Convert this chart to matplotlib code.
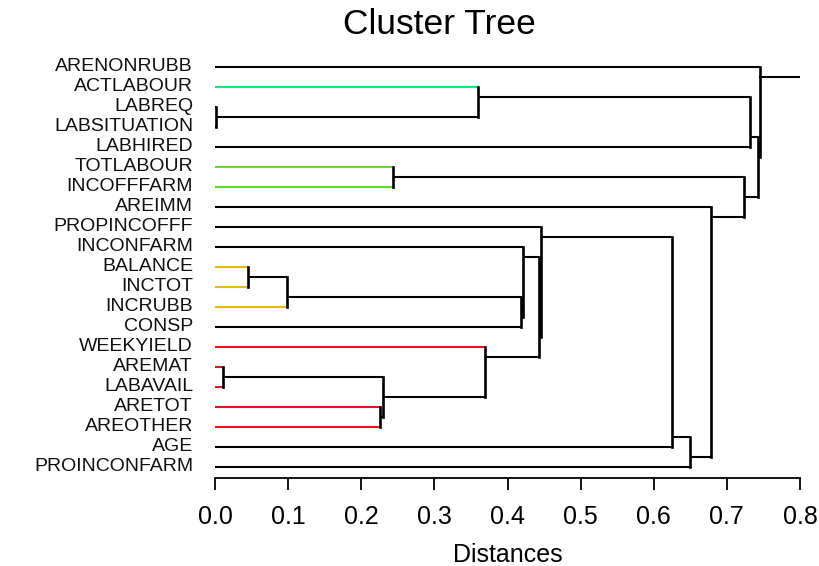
import matplotlib
matplotlib.use("Agg")
import matplotlib.pyplot as plt

plt.rcParams["font.family"] = ["Liberation Sans", "DejaVu Sans"]

# hojas del arbol, de arriba a abajo
hojas = ["ARENONRUBB", "ACTLABOUR", "LABREQ", "LABSITUATION", "LABHIRED",
         "TOTLABOUR", "INCOFFFARM", "AREIMM", "PROPINCOFFF", "INCONFARM",
         "BALANCE", "INCTOT", "INCRUBB", "CONSP", "WEEKYIELD", "AREMAT",
         "LABAVAIL", "ARETOT", "AREOTHER", "AGE", "PROINCONFARM"]

# uniones: hijo de arriba, hijo de abajo, distancia (nodos nuevos desde 21)
union_arriba = [2, 1, 22, 5, 10, 25, 26, 9, 15, 17, 29, 14, 28, 8, 34, 35, 7, 24, 23, 0]
union_abajo = [3, 21, 4, 6, 11, 12, 13, 27, 16, 18, 30, 31, 32, 33, 19, 20, 36, 37, 38, 39]
union_dist = [0.0015, 0.360, 0.731, 0.243, 0.045, 0.0985, 0.418, 0.4215, 0.0105, 0.225,
              0.230, 0.369, 0.4435, 0.4455, 0.625, 0.650, 0.6785, 0.723, 0.742, 0.745]

# color de las ramas de cada hoja
colores_hojas = {
    "ACTLABOUR": "#10e87a",
    "TOTLABOUR": "#5cdc2c", "INCOFFFARM": "#5cdc2c",
    "BALANCE": "#e8b80c", "INCTOT": "#e8b80c", "INCRUBB": "#e8b80c",
    "WEEKYIELD": "#e4141c", "AREMAT": "#e4141c", "LABAVAIL": "#e4141c",
    "ARETOT": "#e4141c", "AREOTHER": "#e4141c",
}
xmax = 0.8

fig = plt.figure(figsize=(8.19, 5.66), dpi=100)
ax = fig.add_axes([215 / 819, 1 - 478.3 / 566, 585 / 819, 421.6 / 566])

n = len(hojas)
# para cada nodo: y del nodo, altura, primera y ultima hoja
pos_y = {i: float(i) for i in range(n)}
altura = {i: 0.0 for i in range(n)}
rango = {i: (i, i) for i in range(n)}

lw = 1.5
for k, (a, b, d) in enumerate(zip(union_arriba, union_abajo, union_dist)):
    for hijo in (a, b):
        col = colores_hojas.get(hojas[hijo], "black") if hijo < n else "black"
        ax.plot([altura[hijo], d], [pos_y[hijo], pos_y[hijo]], color=col, lw=lw,
                solid_capstyle="butt")
    ax.plot([d, d], [pos_y[a], pos_y[b]], color="black", lw=lw + 0.4,
            solid_capstyle="projecting")
    nuevo = n + k
    altura[nuevo] = d
    rango[nuevo] = (rango[a][0], rango[b][1])
    # el nodo queda entre la ultima hoja de arriba y la primera de abajo
    pos_y[nuevo] = (rango[a][1] + rango[b][0]) / 2

raiz = n + len(union_dist) - 1
ax.plot([altura[raiz], xmax], [pos_y[raiz], pos_y[raiz]], color="black", lw=lw)

# etiquetas de las hojas
for i, nombre in enumerate(hojas):
    ax.text(-0.03, i, nombre, ha="right", va="center", fontsize=14, color="#111111")

ax.set_xlim(0, xmax)
ax.set_ylim(20.58, -0.5)
ax.set_yticks([])
for lado in ["top", "right", "left"]:
    ax.spines[lado].set_visible(False)
ax.spines["bottom"].set_linewidth(1.3)
ax.set_xticks([i / 10 for i in range(9)])
ax.set_xticklabels([f"{i / 10:.1f}" for i in range(9)])
ax.tick_params(axis="x", direction="out", length=8.5, width=1.3, pad=11, labelsize=18)
ax.set_xlabel("Distances", fontsize=18, labelpad=10)

fig.text(439 / 819, 1 - 24 / 566, "Cluster Tree", ha="center", va="center", fontsize=25.5)

fig.savefig("out.png", dpi=100)
